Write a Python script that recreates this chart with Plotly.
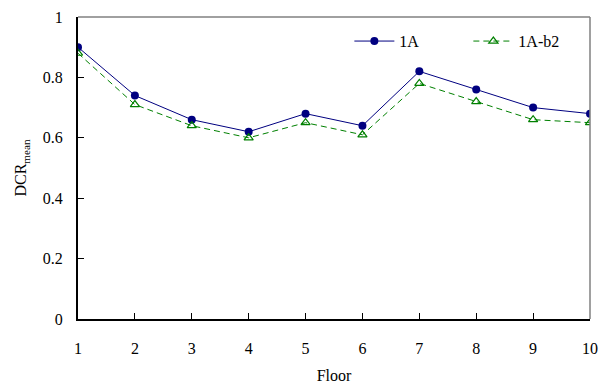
import plotly.graph_objects as go

floors = [1, 2, 3, 4, 5, 6, 7, 8, 9, 10]
dcr_1a = [0.90, 0.74, 0.66, 0.62, 0.68, 0.64, 0.82, 0.76, 0.70, 0.68]
dcr_1a_b2 = [0.88, 0.71, 0.64, 0.60, 0.65, 0.61, 0.78, 0.72, 0.66, 0.65]
y_ticks = [0, 0.2, 0.4, 0.6, 0.8, 1]
y_ticklabels = ["0", "0.2", "0.4", "0.6", "0.8", "1"]

font = "Liberation Serif"

fig = go.Figure()
fig.add_trace(go.Scatter(
    x=floors, y=dcr_1a, name="1A", mode="lines+markers",
    line=dict(color="#000080", width=1),
    marker=dict(symbol="circle", size=8, color="#000080"),
))
fig.add_trace(go.Scatter(
    x=floors, y=dcr_1a_b2, name="1A-b2", mode="lines+markers",
    line=dict(color="#008000", width=1, dash="6px,4px"),
    marker=dict(symbol="triangle-up-open", size=8, color="#008000", line=dict(width=1.2)),
))

fig.update_layout(
    width=604, height=390,
    margin=dict(l=78, r=14, t=17, b=71, autoexpand=False),
    paper_bgcolor="white", plot_bgcolor="white",
    font=dict(family=font, size=16, color="black"),
    showlegend=True,
    legend=dict(orientation="h", x=0.53, y=0.92, xanchor="left", yanchor="middle",
                bgcolor="rgba(0,0,0,0)", font=dict(size=16, family=font),
                entrywidth=64, itemwidth=40, tracegroupgap=0),
    xaxis=dict(range=[1, 10], tickvals=floors, ticks="inside", ticklen=6,
               tickcolor="black", showgrid=False, zeroline=False, automargin=False,
               showline=True, linecolor="black", linewidth=2,
               title=dict(text="Floor", standoff=14, font=dict(size=16, family=font)),
               ticklabelstandoff=14),
    yaxis=dict(range=[0, 1], tickvals=y_ticks, ticktext=y_ticklabels,
               ticks="inside", ticklen=6, tickcolor="black", automargin=False,
               showgrid=False, zeroline=False,
               showline=True, linecolor="black", linewidth=2,
               title=dict(text="DCR<sub>mean</sub>", standoff=12, font=dict(size=16, family=font)),
               ticklabelstandoff=10),
    shapes=[
        dict(type="line", xref="paper", yref="paper", x0=0, x1=1, y0=1, y1=1,
             line=dict(color="#808080", width=1.5)),
        dict(type="line", xref="paper", yref="paper", x0=1, x1=1, y0=0, y1=1,
             line=dict(color="#808080", width=1.5)),
    ],
)

fig.write_html("out.html", config={"displayModeBar": False},
               post_script="document.body.style.margin='0';")
